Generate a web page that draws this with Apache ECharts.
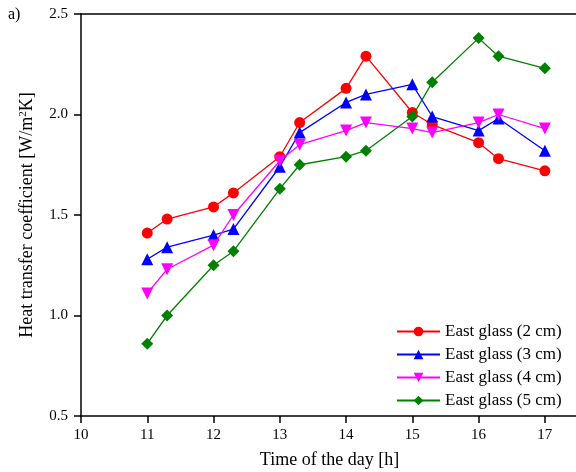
<!DOCTYPE html>
<html>
<head>
<meta charset="utf-8">
<script src="https://cdn.jsdelivr.net/npm/echarts@6/dist/echarts.min.js"></script>
<style>
html,body{margin:0;padding:0;background:#fff;}
#chart{width:576px;height:472px;}
</style>
</head>
<body>
<div id="chart"></div>
<script>
const times = [11, 11.3, 12, 12.3, 13, 13.3, 14, 14.3, 15, 15.3, 16, 16.3, 17];
const glass2cm = [1.41, 1.48, 1.54, 1.61, 1.79, 1.96, 2.13, 2.29, 2.01, 1.95, 1.86, 1.78, 1.72];
const glass3cm = [1.28, 1.34, 1.40, 1.43, 1.74, 1.91, 2.06, 2.10, 2.15, 1.99, 1.92, 1.98, 1.82];
const glass4cm = [1.11, 1.23, 1.35, 1.50, 1.77, 1.85, 1.92, 1.96, 1.93, 1.91, 1.96, 2.00, 1.93];
const glass5cm = [0.86, 1.00, 1.25, 1.32, 1.63, 1.75, 1.79, 1.82, 1.99, 2.16, 2.38, 2.29, 2.23];
const seriesNames = ['East glass (2 cm)', 'East glass (3 cm)', 'East glass (4 cm)', 'East glass (5 cm)'];
const xTicks = [10, 11, 12, 13, 14, 15, 16, 17];
const yTicks = [0.5, 1.0, 1.5, 2.0, 2.5];

const font = '"Liberation Serif", "Times New Roman", serif';
const chart = echarts.init(document.getElementById('chart'), null, {renderer: 'canvas'});

function pairs(vals) { return times.map((t, i) => [t, vals[i]]); }

const styles = [
  {color: '#ff0000', symbol: 'circle', size: 11},
  {color: '#0000ff', symbol: 'triangle', size: 12},
  {color: '#ff00ff', symbol: 'path://M0,0 L10,0 L5,9 Z', size: 12},
  {color: '#008000', symbol: 'diamond', size: 12}
];
const allData = [glass2cm, glass3cm, glass4cm, glass5cm];

chart.setOption({
  animation: false,
  backgroundColor: '#ffffff',
  textStyle: {fontFamily: font},
  grid: {left: 81, right: -2, top: 14, bottom: 56, containLabel: false, outerBoundsMode: 'none'},
  graphic: [{
    type: 'text', left: 8, top: 7,
    style: {text: 'a)', font: '16px ' + font, fill: '#000'}
  }],
  legend: {
    data: seriesNames,
    orient: 'vertical',
    left: 396,
    top: 323,
    itemWidth: 43,
    itemHeight: 12,
    itemGap: 6,
    textStyle: {fontFamily: font, fontSize: 17, color: '#000', lineHeight: 17},
    padding: 0
  },
  xAxis: [{
    type: 'value',
    min: 10, max: 17.5, interval: 1,
    position: 'bottom',
    name: 'Time of the day [h]',
    nameLocation: 'middle',
    nameGap: 35,
    nameTextStyle: {fontFamily: font, fontSize: 18, color: '#000'},
    axisLine: {show: true, onZero: false, lineStyle: {color: '#000', width: 1.5}},
    axisTick: {show: true, inside: false, length: 7, lineStyle: {color: '#000', width: 1.5}},
    axisLabel: {
      fontFamily: font, fontSize: 15, color: '#000', margin: 12,
      formatter: v => (xTicks.indexOf(v) >= 0 ? String(v) : '')
    },
    splitLine: {show: false}
  }, {
    type: 'value',
    min: 10, max: 17.5, position: 'top',
    axisLine: {show: true, onZero: false, lineStyle: {color: '#000', width: 1.5}},
    axisTick: {show: false}, axisLabel: {show: false}, splitLine: {show: false}
  }],
  yAxis: {
    type: 'value',
    min: 0.5, max: 2.5, interval: 0.5,
    name: '{n|Heat transfer coefficient [W/m}{s|2}{n|K]}',
    nameLocation: 'middle',
    nameRotate: 90,
    nameGap: 44,
    nameTextStyle: {
      fontFamily: font, fontSize: 18, color: '#000',
      rich: {
        n: {fontFamily: font, fontSize: 18, color: '#000'},
        s: {fontFamily: font, fontSize: 11, color: '#000', verticalAlign: 'top', padding: [0, 0, 8, 0]}
      }
    },
    axisLine: {show: true, onZero: false, lineStyle: {color: '#000', width: 1.5}},
    axisTick: {show: true, inside: false, length: 7, lineStyle: {color: '#000', width: 1.5}},
    axisLabel: {
      fontFamily: font, fontSize: 15, color: '#000', margin: 13,
      formatter: v => v.toFixed(1)
    },
    splitLine: {show: false}
  },
  series: seriesNames.map((name, i) => ({
    name: name,
    type: 'line',
    data: pairs(allData[i]),
    symbol: styles[i].symbol,
    symbolSize: styles[i].size,
    showAllSymbol: true,
    color: styles[i].color,
    lineStyle: {color: styles[i].color, width: 1.3},
    itemStyle: {color: styles[i].color},
    z: 2 + i
  }))
});
</script>
</body>
</html>
